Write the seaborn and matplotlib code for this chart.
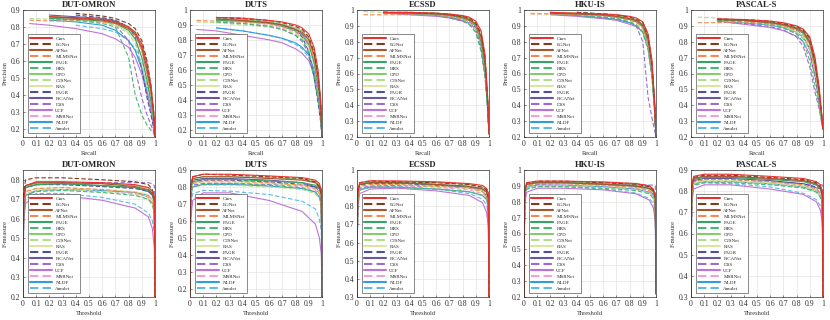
import numpy as np
import pandas as pd
import matplotlib
matplotlib.use('Agg')
import matplotlib.pyplot as plt
import seaborn as sns

nan = np.nan

methods = ['Ours', 'EGNet', 'AFNet', 'MLMSNet', 'PAGE', 'HRS', 'CPD', 'C2SNet', 'RAS',
           'PAGR', 'PiCANet', 'DSS', 'UCF', 'MSRNet', 'NLDF', 'Amulet']
colors = ['#e8312f', '#7f3b1f', '#a9542e', '#f28a52', '#34a463', '#47b874', '#86cc6c', '#b5dc8c',
          '#d8e6a2', '#4e4f9c', '#6655a8', '#9a6ccc', '#c272d6', '#f3a0d4', '#2f9de0', '#5fbaea']
dashed = [False, True] * 8

datasets = ['DUT-OMRON', 'DUTS', 'ECSSD', 'HKU-IS', 'PASCAL-S']
pr_ylim = [(0.15, 0.9), (0.15, 1.0), (0.2, 1.0), (0.2, 1.0), (0.2, 1.0)]
f_ylim = [(0.2, 0.85), (0.15, 0.9), (0.3, 1.0), (0.2, 1.0), (0.3, 0.9)]

# recall positions of the sampled PR points
recall = [0.05, 0.2, 0.4, 0.6, 0.7, 0.8, 0.85, 0.9, 0.94, 0.97, 0.99, 1.0]
# threshold positions of the sampled F-measure points
threshold = [0, 0.005, 0.02, 0.1, 0.3, 0.6, 0.85, 0.95, 0.98, 0.995, 1.0]

pr_dut_omron = [
    [nan, 0.86, 0.855, 0.845, 0.83, 0.80, 0.77, 0.70, 0.58, 0.45, 0.30, 0.15],
    [nan, nan, 0.88, 0.865, 0.85, 0.82, 0.79, 0.72, 0.60, 0.45, 0.30, 0.15],
    [nan, 0.86, 0.85, 0.84, 0.825, 0.79, 0.76, 0.68, 0.55, 0.42, 0.28, 0.15],
    [0.84, 0.835, 0.835, 0.83, 0.82, 0.79, 0.75, 0.66, 0.52, 0.40, 0.27, 0.15],
    [nan, 0.85, 0.845, 0.835, 0.82, 0.78, 0.73, 0.62, 0.48, 0.36, 0.25, 0.15],
    [nan, 0.85, 0.84, 0.82, 0.80, 0.62, 0.40, 0.28, 0.22, 0.19, 0.17, 0.15],
    [nan, 0.86, 0.855, 0.845, 0.83, 0.80, 0.76, 0.68, 0.55, 0.42, 0.28, 0.15],
    [0.85, 0.845, 0.84, 0.83, 0.81, 0.76, 0.70, 0.58, 0.45, 0.34, 0.24, 0.15],
    [nan, 0.85, 0.84, 0.83, 0.81, 0.77, 0.72, 0.62, 0.50, 0.38, 0.26, 0.15],
    [nan, nan, 0.87, 0.855, 0.84, 0.80, 0.74, 0.55, 0.38, 0.28, 0.20, 0.15],
    [nan, 0.87, 0.86, 0.85, 0.835, 0.80, 0.76, 0.67, 0.53, 0.40, 0.27, 0.15],
    [nan, 0.85, 0.84, 0.83, 0.81, 0.72, 0.55, 0.38, 0.28, 0.22, 0.18, 0.15],
    [0.82, 0.81, 0.79, 0.76, 0.73, 0.68, 0.62, 0.52, 0.40, 0.30, 0.22, 0.15],
    [nan, nan, 0.85, 0.84, 0.82, 0.79, 0.75, 0.66, 0.52, 0.40, 0.27, 0.15],
    [nan, 0.84, 0.83, 0.81, 0.78, 0.72, 0.66, 0.55, 0.42, 0.32, 0.22, 0.15],
    [nan, nan, 0.81, 0.79, 0.77, 0.72, 0.67, 0.57, 0.45, 0.35, 0.24, 0.15],
]
pr_duts = [
    [nan, 0.95, 0.945, 0.93, 0.92, 0.90, 0.88, 0.84, 0.75, 0.60, 0.40, 0.15],
    [nan, 0.95, 0.945, 0.93, 0.915, 0.89, 0.87, 0.82, 0.72, 0.57, 0.38, 0.15],
    [nan, 0.94, 0.93, 0.915, 0.90, 0.87, 0.85, 0.80, 0.70, 0.55, 0.37, 0.15],
    [0.93, 0.925, 0.92, 0.91, 0.89, 0.86, 0.83, 0.78, 0.67, 0.52, 0.35, 0.15],
    [nan, 0.93, 0.925, 0.91, 0.89, 0.86, 0.83, 0.77, 0.65, 0.50, 0.33, 0.15],
    [nan, 0.92, 0.91, 0.89, 0.87, 0.83, 0.80, 0.72, 0.55, 0.40, 0.27, 0.15],
    [nan, 0.94, 0.935, 0.92, 0.905, 0.88, 0.86, 0.81, 0.71, 0.56, 0.37, 0.15],
    [0.92, 0.915, 0.90, 0.885, 0.87, 0.84, 0.81, 0.75, 0.63, 0.48, 0.32, 0.15],
    [nan, 0.93, 0.92, 0.905, 0.89, 0.86, 0.83, 0.78, 0.66, 0.51, 0.34, 0.15],
    [nan, 0.95, 0.94, 0.92, 0.90, 0.86, 0.82, 0.72, 0.55, 0.38, 0.25, 0.15],
    [nan, 0.94, 0.93, 0.915, 0.90, 0.87, 0.84, 0.78, 0.66, 0.50, 0.33, 0.15],
    [nan, 0.92, 0.91, 0.89, 0.87, 0.83, 0.79, 0.70, 0.55, 0.40, 0.27, 0.15],
    [0.87, 0.86, 0.83, 0.80, 0.78, 0.74, 0.71, 0.66, 0.57, 0.45, 0.30, 0.15],
    [nan, nan, 0.92, 0.90, 0.88, 0.85, 0.82, 0.76, 0.64, 0.50, 0.33, 0.15],
    [nan, 0.88, 0.86, 0.83, 0.81, 0.78, 0.75, 0.70, 0.60, 0.47, 0.31, 0.15],
    [nan, 0.88, 0.86, 0.83, 0.81, 0.77, 0.74, 0.68, 0.58, 0.45, 0.30, 0.15],
]
pr_ecssd = [
    [nan, 0.985, 0.985, 0.98, 0.975, 0.965, 0.955, 0.93, 0.87, 0.72, 0.45, 0.22],
    [nan, 0.985, 0.985, 0.98, 0.973, 0.96, 0.95, 0.92, 0.85, 0.70, 0.43, 0.22],
    [nan, 0.985, 0.98, 0.975, 0.97, 0.955, 0.94, 0.91, 0.83, 0.67, 0.42, 0.22],
    [0.97, 0.97, 0.97, 0.965, 0.96, 0.945, 0.93, 0.90, 0.82, 0.66, 0.42, 0.22],
    [nan, 0.985, 0.98, 0.975, 0.965, 0.95, 0.935, 0.90, 0.80, 0.64, 0.40, 0.22],
    [nan, 0.98, 0.975, 0.965, 0.955, 0.935, 0.91, 0.86, 0.74, 0.58, 0.37, 0.22],
    [nan, 0.985, 0.985, 0.98, 0.97, 0.96, 0.945, 0.915, 0.84, 0.68, 0.43, 0.22],
    [0.99, 0.985, 0.98, 0.97, 0.96, 0.94, 0.92, 0.88, 0.78, 0.62, 0.39, 0.22],
    [nan, 0.985, 0.98, 0.975, 0.965, 0.95, 0.935, 0.90, 0.80, 0.64, 0.40, 0.22],
    [nan, 0.985, 0.98, 0.975, 0.965, 0.945, 0.93, 0.89, 0.78, 0.60, 0.38, 0.22],
    [nan, 0.985, 0.98, 0.975, 0.965, 0.95, 0.935, 0.90, 0.81, 0.65, 0.41, 0.22],
    [nan, 0.98, 0.975, 0.965, 0.95, 0.93, 0.91, 0.86, 0.75, 0.58, 0.37, 0.22],
    [nan, 0.98, 0.97, 0.96, 0.95, 0.93, 0.915, 0.88, 0.80, 0.65, 0.42, 0.22],
    [nan, 0.985, 0.98, 0.97, 0.96, 0.94, 0.925, 0.89, 0.79, 0.62, 0.39, 0.22],
    [nan, 0.98, 0.975, 0.965, 0.955, 0.935, 0.92, 0.88, 0.78, 0.61, 0.38, 0.22],
    [nan, 0.98, 0.975, 0.965, 0.955, 0.935, 0.92, 0.885, 0.80, 0.64, 0.40, 0.22],
]
pr_hku_is = [
    [nan, 0.985, 0.98, 0.975, 0.97, 0.96, 0.95, 0.925, 0.85, 0.68, 0.42, 0.20],
    [nan, nan, 0.985, 0.975, 0.97, 0.955, 0.945, 0.92, 0.84, 0.66, 0.40, 0.20],
    [nan, 0.98, 0.975, 0.97, 0.96, 0.945, 0.935, 0.905, 0.82, 0.64, 0.39, 0.20],
    [0.975, 0.975, 0.97, 0.965, 0.955, 0.94, 0.925, 0.89, 0.80, 0.62, 0.38, 0.20],
    [nan, 0.98, 0.975, 0.965, 0.955, 0.94, 0.925, 0.895, 0.80, 0.62, 0.38, 0.20],
    [nan, 0.975, 0.965, 0.955, 0.945, 0.925, 0.905, 0.86, 0.75, 0.57, 0.35, 0.20],
    [nan, 0.985, 0.98, 0.97, 0.965, 0.95, 0.94, 0.91, 0.83, 0.65, 0.40, 0.20],
    [0.98, 0.975, 0.97, 0.96, 0.95, 0.93, 0.91, 0.87, 0.77, 0.59, 0.36, 0.20],
    [nan, 0.98, 0.975, 0.965, 0.955, 0.94, 0.925, 0.895, 0.80, 0.62, 0.38, 0.20],
    [nan, nan, 0.985, 0.975, 0.965, 0.95, 0.935, 0.90, 0.80, 0.60, 0.36, 0.20],
    [nan, 0.985, 0.975, 0.965, 0.96, 0.945, 0.93, 0.90, 0.81, 0.63, 0.39, 0.20],
    [nan, 0.975, 0.965, 0.955, 0.945, 0.925, 0.90, 0.80, 0.45, 0.32, 0.24, 0.20],
    [nan, 0.97, 0.96, 0.945, 0.935, 0.91, 0.895, 0.86, 0.78, 0.62, 0.40, 0.20],
    [nan, 0.98, 0.97, 0.96, 0.95, 0.935, 0.92, 0.885, 0.79, 0.60, 0.37, 0.20],
    [nan, 0.975, 0.965, 0.95, 0.94, 0.92, 0.90, 0.86, 0.76, 0.58, 0.36, 0.20],
    [nan, 0.975, 0.965, 0.95, 0.94, 0.92, 0.905, 0.87, 0.78, 0.60, 0.37, 0.20],
]
pr_pascal_s = [
    [nan, 0.945, 0.94, 0.93, 0.92, 0.90, 0.88, 0.83, 0.70, 0.52, 0.35, 0.25],
    [nan, 0.94, 0.94, 0.93, 0.915, 0.895, 0.875, 0.82, 0.68, 0.50, 0.34, 0.25],
    [nan, 0.94, 0.935, 0.92, 0.91, 0.885, 0.865, 0.80, 0.66, 0.49, 0.33, 0.25],
    [0.92, 0.92, 0.925, 0.915, 0.90, 0.875, 0.85, 0.78, 0.63, 0.47, 0.32, 0.25],
    [nan, 0.94, 0.935, 0.92, 0.905, 0.88, 0.855, 0.79, 0.64, 0.47, 0.32, 0.25],
    [nan, 0.935, 0.925, 0.91, 0.89, 0.85, 0.80, 0.68, 0.52, 0.40, 0.30, 0.25],
    [nan, 0.94, 0.935, 0.925, 0.91, 0.89, 0.87, 0.81, 0.67, 0.50, 0.33, 0.25],
    [0.955, 0.95, 0.93, 0.91, 0.895, 0.86, 0.83, 0.75, 0.60, 0.45, 0.31, 0.25],
    [nan, 0.935, 0.925, 0.91, 0.895, 0.865, 0.84, 0.77, 0.62, 0.46, 0.32, 0.25],
    [nan, 0.945, 0.935, 0.92, 0.90, 0.87, 0.84, 0.75, 0.58, 0.43, 0.31, 0.25],
    [nan, 0.935, 0.935, 0.92, 0.905, 0.88, 0.855, 0.79, 0.64, 0.47, 0.32, 0.25],
    [nan, 0.925, 0.915, 0.895, 0.875, 0.83, 0.77, 0.64, 0.48, 0.38, 0.29, 0.25],
    [nan, 0.93, 0.91, 0.89, 0.87, 0.835, 0.80, 0.72, 0.58, 0.44, 0.31, 0.25],
    [nan, 0.94, 0.93, 0.915, 0.90, 0.87, 0.845, 0.78, 0.63, 0.47, 0.32, 0.25],
    [nan, 0.93, 0.92, 0.905, 0.89, 0.86, 0.83, 0.76, 0.62, 0.46, 0.32, 0.25],
    [nan, 0.935, 0.925, 0.905, 0.885, 0.85, 0.82, 0.75, 0.61, 0.46, 0.32, 0.25],
]

f_dut_omron = [
    [0.20, 0.70, 0.77, 0.79, 0.79, 0.785, 0.775, 0.76, 0.74, 0.71, 0.20],
    [0.20, 0.74, 0.80, 0.81, 0.81, 0.80, 0.79, 0.775, 0.75, 0.71, 0.20],
    [0.20, 0.70, 0.77, 0.785, 0.785, 0.78, 0.765, 0.75, 0.73, 0.69, 0.20],
    [0.20, 0.68, 0.74, 0.755, 0.76, 0.75, 0.735, 0.71, 0.68, 0.64, 0.20],
    [0.20, 0.70, 0.76, 0.775, 0.78, 0.77, 0.76, 0.745, 0.73, 0.70, 0.20],
    [0.20, 0.66, 0.72, 0.74, 0.745, 0.735, 0.72, 0.70, 0.67, 0.63, 0.20],
    [0.20, 0.71, 0.77, 0.78, 0.785, 0.78, 0.77, 0.76, 0.745, 0.72, 0.20],
    [0.20, 0.67, 0.73, 0.745, 0.75, 0.74, 0.725, 0.70, 0.68, 0.64, 0.20],
    [0.20, 0.68, 0.74, 0.755, 0.76, 0.75, 0.74, 0.725, 0.70, 0.67, 0.20],
    [0.20, 0.70, 0.76, 0.775, 0.775, 0.765, 0.755, 0.74, 0.725, 0.70, 0.20],
    [0.20, 0.70, 0.76, 0.775, 0.78, 0.77, 0.76, 0.74, 0.72, 0.68, 0.20],
    [0.20, 0.72, 0.77, 0.78, 0.785, 0.785, 0.785, 0.785, 0.78, 0.77, 0.20],
    [0.20, 0.58, 0.68, 0.72, 0.72, 0.695, 0.655, 0.61, 0.55, 0.45, 0.20],
    [0.20, 0.68, 0.73, 0.745, 0.75, 0.74, 0.73, 0.715, 0.69, 0.66, 0.20],
    [0.20, 0.64, 0.72, 0.745, 0.75, 0.745, 0.735, 0.72, 0.70, 0.66, 0.20],
    [0.20, 0.62, 0.70, 0.73, 0.73, 0.71, 0.675, 0.63, 0.59, 0.53, 0.20],
]
f_duts = [
    [0.15, 0.80, 0.86, 0.875, 0.875, 0.865, 0.855, 0.84, 0.82, 0.78, 0.15],
    [0.15, 0.80, 0.86, 0.875, 0.87, 0.86, 0.85, 0.83, 0.80, 0.76, 0.15],
    [0.15, 0.79, 0.85, 0.86, 0.86, 0.85, 0.84, 0.825, 0.80, 0.76, 0.15],
    [0.15, 0.76, 0.82, 0.835, 0.835, 0.825, 0.81, 0.79, 0.76, 0.72, 0.15],
    [0.15, 0.78, 0.83, 0.845, 0.845, 0.835, 0.825, 0.81, 0.79, 0.75, 0.15],
    [0.15, 0.74, 0.80, 0.815, 0.82, 0.81, 0.795, 0.77, 0.74, 0.70, 0.15],
    [0.15, 0.79, 0.85, 0.86, 0.86, 0.855, 0.845, 0.83, 0.81, 0.77, 0.15],
    [0.15, 0.74, 0.80, 0.81, 0.81, 0.80, 0.785, 0.76, 0.73, 0.69, 0.15],
    [0.15, 0.76, 0.82, 0.83, 0.83, 0.82, 0.81, 0.79, 0.77, 0.73, 0.15],
    [0.15, 0.78, 0.83, 0.84, 0.84, 0.83, 0.815, 0.80, 0.79, 0.77, 0.15],
    [0.15, 0.78, 0.84, 0.85, 0.85, 0.84, 0.825, 0.80, 0.77, 0.72, 0.15],
    [0.15, 0.76, 0.81, 0.82, 0.82, 0.815, 0.81, 0.80, 0.80, 0.79, 0.15],
    [0.15, 0.60, 0.72, 0.765, 0.765, 0.72, 0.655, 0.58, 0.50, 0.40, 0.15],
    [0.15, 0.76, 0.81, 0.825, 0.825, 0.815, 0.80, 0.78, 0.76, 0.72, 0.15],
    [0.15, 0.74, 0.80, 0.815, 0.815, 0.805, 0.79, 0.77, 0.74, 0.70, 0.15],
    [0.15, 0.70, 0.76, 0.78, 0.775, 0.755, 0.715, 0.67, 0.61, 0.54, 0.15],
]
f_ecssd = [
    [0.30, 0.88, 0.93, 0.94, 0.94, 0.935, 0.925, 0.915, 0.90, 0.87, 0.30],
    [0.30, 0.88, 0.93, 0.94, 0.935, 0.93, 0.92, 0.905, 0.89, 0.85, 0.30],
    [0.30, 0.87, 0.92, 0.93, 0.93, 0.92, 0.91, 0.895, 0.88, 0.84, 0.30],
    [0.30, 0.85, 0.91, 0.92, 0.92, 0.91, 0.90, 0.88, 0.86, 0.82, 0.30],
    [0.30, 0.87, 0.92, 0.93, 0.93, 0.92, 0.91, 0.895, 0.88, 0.85, 0.30],
    [0.30, 0.84, 0.89, 0.905, 0.905, 0.895, 0.88, 0.86, 0.84, 0.80, 0.30],
    [0.30, 0.88, 0.925, 0.935, 0.935, 0.93, 0.92, 0.905, 0.89, 0.86, 0.30],
    [0.30, 0.84, 0.89, 0.905, 0.905, 0.895, 0.88, 0.86, 0.84, 0.80, 0.30],
    [0.30, 0.85, 0.91, 0.92, 0.92, 0.91, 0.90, 0.885, 0.87, 0.83, 0.30],
    [0.30, 0.86, 0.915, 0.925, 0.925, 0.915, 0.90, 0.885, 0.87, 0.85, 0.30],
    [0.30, 0.86, 0.92, 0.93, 0.93, 0.92, 0.905, 0.885, 0.86, 0.82, 0.30],
    [0.30, 0.85, 0.90, 0.91, 0.915, 0.91, 0.905, 0.90, 0.895, 0.89, 0.30],
    [0.30, 0.78, 0.87, 0.895, 0.90, 0.885, 0.86, 0.82, 0.77, 0.70, 0.30],
    [0.30, 0.85, 0.90, 0.915, 0.915, 0.905, 0.89, 0.87, 0.85, 0.81, 0.30],
    [0.30, 0.84, 0.89, 0.905, 0.905, 0.895, 0.88, 0.86, 0.84, 0.80, 0.30],
    [0.30, 0.83, 0.89, 0.91, 0.91, 0.895, 0.87, 0.84, 0.81, 0.76, 0.30],
]
f_hku_is = [
    [0.20, 0.87, 0.92, 0.93, 0.93, 0.925, 0.915, 0.90, 0.88, 0.84, 0.22],
    [0.20, 0.87, 0.92, 0.93, 0.93, 0.92, 0.91, 0.895, 0.875, 0.83, 0.22],
    [0.20, 0.86, 0.91, 0.92, 0.92, 0.91, 0.90, 0.885, 0.865, 0.82, 0.22],
    [0.20, 0.85, 0.90, 0.915, 0.915, 0.905, 0.89, 0.87, 0.85, 0.80, 0.22],
    [0.20, 0.86, 0.91, 0.92, 0.92, 0.91, 0.90, 0.885, 0.865, 0.82, 0.22],
    [0.20, 0.83, 0.88, 0.895, 0.895, 0.885, 0.87, 0.85, 0.82, 0.77, 0.22],
    [0.20, 0.87, 0.915, 0.925, 0.925, 0.92, 0.91, 0.895, 0.875, 0.83, 0.22],
    [0.20, 0.84, 0.89, 0.90, 0.90, 0.89, 0.875, 0.855, 0.83, 0.78, 0.22],
    [0.20, 0.85, 0.905, 0.915, 0.915, 0.905, 0.89, 0.875, 0.855, 0.81, 0.22],
    [0.20, 0.86, 0.91, 0.92, 0.92, 0.91, 0.895, 0.88, 0.865, 0.84, 0.22],
    [0.20, 0.86, 0.91, 0.92, 0.92, 0.91, 0.895, 0.875, 0.85, 0.80, 0.22],
    [0.20, 0.85, 0.90, 0.91, 0.915, 0.91, 0.91, 0.905, 0.905, 0.90, 0.22],
    [0.20, 0.78, 0.86, 0.885, 0.885, 0.875, 0.85, 0.81, 0.76, 0.68, 0.22],
    [0.20, 0.85, 0.90, 0.91, 0.91, 0.90, 0.885, 0.865, 0.845, 0.80, 0.22],
    [0.20, 0.84, 0.89, 0.905, 0.905, 0.895, 0.88, 0.86, 0.84, 0.79, 0.22],
    [0.20, 0.82, 0.88, 0.895, 0.895, 0.88, 0.855, 0.82, 0.79, 0.74, 0.22],
]
f_pascal_s = [
    [0.30, 0.82, 0.87, 0.88, 0.88, 0.87, 0.86, 0.845, 0.83, 0.80, 0.30],
    [0.30, 0.82, 0.865, 0.875, 0.875, 0.865, 0.855, 0.84, 0.82, 0.79, 0.30],
    [0.30, 0.81, 0.86, 0.87, 0.87, 0.86, 0.85, 0.835, 0.815, 0.78, 0.30],
    [0.30, 0.80, 0.845, 0.855, 0.855, 0.845, 0.83, 0.81, 0.79, 0.76, 0.30],
    [0.30, 0.81, 0.855, 0.865, 0.865, 0.855, 0.845, 0.83, 0.81, 0.78, 0.30],
    [0.30, 0.78, 0.83, 0.84, 0.84, 0.83, 0.815, 0.795, 0.77, 0.74, 0.30],
    [0.30, 0.81, 0.86, 0.87, 0.87, 0.86, 0.85, 0.835, 0.82, 0.79, 0.30],
    [0.30, 0.79, 0.835, 0.845, 0.845, 0.835, 0.82, 0.80, 0.78, 0.75, 0.30],
    [0.30, 0.79, 0.84, 0.85, 0.85, 0.84, 0.83, 0.81, 0.79, 0.76, 0.30],
    [0.30, 0.80, 0.845, 0.855, 0.855, 0.845, 0.835, 0.82, 0.81, 0.79, 0.30],
    [0.30, 0.80, 0.85, 0.86, 0.86, 0.85, 0.835, 0.815, 0.79, 0.75, 0.30],
    [0.30, 0.79, 0.835, 0.845, 0.845, 0.84, 0.835, 0.83, 0.83, 0.83, 0.30],
    [0.30, 0.74, 0.81, 0.83, 0.83, 0.81, 0.785, 0.75, 0.71, 0.65, 0.30],
    [0.30, 0.79, 0.84, 0.85, 0.85, 0.84, 0.825, 0.805, 0.785, 0.75, 0.30],
    [0.30, 0.79, 0.835, 0.845, 0.845, 0.835, 0.82, 0.80, 0.78, 0.75, 0.30],
    [0.30, 0.77, 0.825, 0.84, 0.835, 0.82, 0.79, 0.76, 0.73, 0.69, 0.30],
]

pr_data = [pr_dut_omron, pr_duts, pr_ecssd, pr_hku_is, pr_pascal_s]
f_data = [f_dut_omron, f_duts, f_ecssd, f_hku_is, f_pascal_s]

sns.set_style('ticks')
plt.rcParams['font.family'] = ['Liberation Serif', 'DejaVu Serif']

palette = dict(zip(methods, colors))
dash_map = {m: ((4, 2) if d else '') for m, d in zip(methods, dashed)}


def long_frame(xs, rows):
    recs = []
    for m, ys in zip(methods, rows):
        for x, y in zip(xs, ys):
            recs.append((m, x, y))
    return pd.DataFrame(recs, columns=['method', 'x', 'y']).dropna()


def draw(ax, df, title, xlabel, ylabel, ylim):
    order = methods[::-1]  # Ours drawn last, on top
    sns.lineplot(data=df, x='x', y='y', hue='method', style='method',
                 hue_order=order, style_order=order, palette=palette, dashes=dash_map,
                 estimator=None, sort=False, linewidth=0.8, ax=ax, legend='full')
    handles, labels = ax.get_legend_handles_labels()
    lookup = dict(zip(labels, handles))
    leg = ax.legend([lookup[m] for m in methods], methods, loc='lower left',
                    bbox_to_anchor=(0.035, 0.03), fontsize=3.6, frameon=True, fancybox=False,
                    edgecolor='#333333', framealpha=1, handlelength=4.4, handletextpad=0.7,
                    borderpad=0.45, labelspacing=0.3, borderaxespad=0)
    leg.get_frame().set_linewidth(0.4)
    for line in leg.get_lines():
        line.set_linewidth(1.5)
    ax.set_xlim(0, 1)
    ax.set_ylim(*ylim)
    xt = np.round(np.arange(0, 1.01, 0.1), 1)
    yt = np.round(np.arange(np.ceil(ylim[0] * 10 - 1e-9) / 10, ylim[1] + 1e-9, 0.1), 1)
    ax.set_xticks(xt)
    ax.set_xticklabels([f'{v:g}' for v in xt])
    ax.set_yticks(yt)
    ax.set_yticklabels([f'{v:g}' for v in yt])
    ax.grid(True, color='#e3e3e3', linewidth=0.5)
    ax.set_axisbelow(True)
    ax.tick_params(direction='in', length=1.5, width=0.4, labelsize=5.6, colors='#333333', pad=2)
    for s in ax.spines.values():
        s.set_linewidth(0.5)
        s.set_color('#333333')
    ax.set_title(title, fontsize=6.2, fontweight='bold', pad=2)
    ax.set_xlabel(xlabel, fontsize=4.6, color='#333333', labelpad=2)
    ax.set_ylabel(ylabel, fontsize=4.6, color='#333333', labelpad=2)


fig = plt.figure(figsize=(8.3, 3.2), dpi=100)
lefts = [23, 190, 357, 524, 691]
W, H = 830, 320
for i, name in enumerate(datasets):
    ax1 = fig.add_axes([lefts[i] / W, 1 - 137 / H, 132 / W, 127 / H])
    draw(ax1, long_frame(recall, pr_data[i]), name, 'Recall', 'Precision', pr_ylim[i])
    ax2 = fig.add_axes([lefts[i] / W, 1 - 297 / H, 132 / W, 127 / H])
    draw(ax2, long_frame(threshold, f_data[i]), name, 'Threshold', 'F-measure', f_ylim[i])

fig.savefig('out.png', dpi=100)
